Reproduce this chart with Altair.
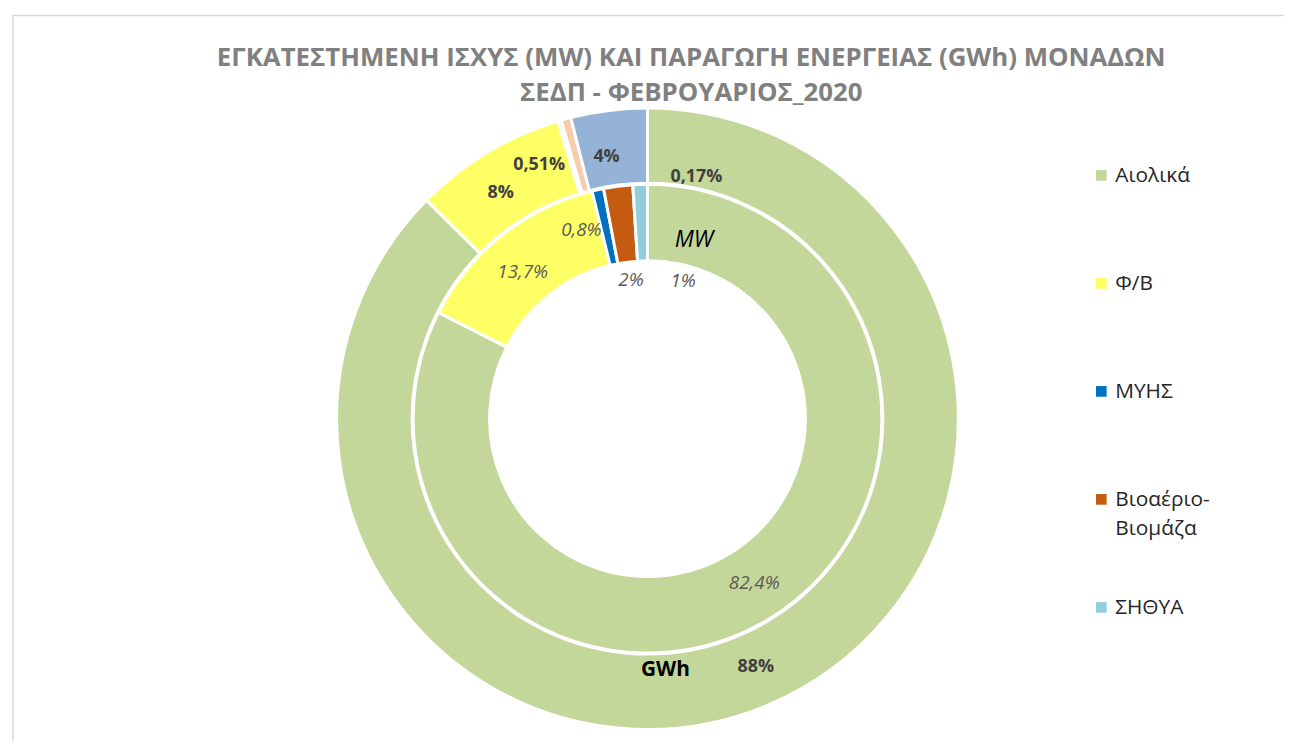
import altair as alt
import pandas as pd

# ---------------- data ----------------
categories = ["Αιολικά", "Φ/Β", "ΜΥΗΣ", "Βιοαέριο-Βιομάζα", "ΣΗΘΥΑ"]
legend_text = ["Αιολικά", "Φ/Β", "ΜΥΗΣ", "Βιοαέριο-\nΒιομάζα", "ΣΗΘΥΑ"]
mw_share = [82.4, 13.7, 0.8, 2.0, 1.0]          # inner ring (MW)
mw_labels = ["82,4%", "13,7%", "0,8%", "2%", "1%"]
gwh_share = [88.0, 8.0, 0.17, 0.51, 4.0]        # outer ring (GWh)
gwh_labels = ["88%", "8%", "0,17%", "0,51%", "4%"]
title_lines = ["ΕΓΚΑΤΕΣΤΗΜΕΝΗ ΙΣΧΥΣ (MW) ΚΑΙ ΠΑΡΑΓΩΓΗ ΕΝΕΡΓΕΙΑΣ (GWh) ΜΟΝΑΔΩΝ",
               "ΣΕΔΠ - ΦΕΒΡΟΥΑΡΙΟΣ_2020"]

# ---------------- styles ----------------
inner_colors = ["#C4D79B", "#FFFF66", "#0070C0", "#C55A11", "#92CDDC"]
outer_colors = ["#C4D79B", "#FFFF66", "#9DC3E6", "#F8CBAD", "#95B3D7"]
FONT = "Open Sans"
CX, CY = 639, 406
W, H = 1280, 730

inner_df = pd.DataFrame({"cat": categories, "order": list(range(5)),
                         "v": mw_share, "label": mw_labels})
outer_df = pd.DataFrame({"cat": categories, "order": list(range(5)),
                         "v": gwh_share, "label": gwh_labels})
legend_df = pd.DataFrame({"cat": categories, "text": legend_text})
title_df = pd.DataFrame({"t": ["\n".join(title_lines)]})


def ring(df, colors, r_out, r_in):
    return alt.Chart(df).mark_arc(radius=r_out, radius2=r_in, stroke="white",
                                  strokeWidth=3).encode(
        theta=alt.Theta("v:Q", stack=True),
        order=alt.Order("order:Q"),
        color=alt.Color("cat:N", scale=alt.Scale(domain=categories, range=colors),
                        legend=None),
        x=alt.value(CX), y=alt.value(CY),
    )


def label(df, cat, radius, dx, dy, text=None, **style):
    txt = alt.value(text) if text is not None else alt.Text("label:N")
    return alt.Chart(df).mark_text(radius=radius, dx=dx, dy=dy, align="center",
                                   baseline="middle", font=FONT, **style).encode(
        theta=alt.Theta("v:Q", stack=True),
        order=alt.Order("order:Q"),
        text=alt.condition(alt.datum.cat == cat, txt, alt.value("")),
        x=alt.value(CX), y=alt.value(CY),
    )


outer_nudge = {"Αιολικά": (3, -4), "Φ/Β": (-6, 8), "ΜΥΗΣ": (127, 20),
               "Βιοαέριο-Βιομάζα": (-37, 10), "ΣΗΘΥΑ": (-7, 9)}
inner_nudge = {"Αιολικά": (5, -2), "Φ/Β": (-4, 6), "ΜΥΗΣ": (-25, 2),
               "Βιοαέριο-Βιομάζα": (8, 55), "ΣΗΘΥΑ": (42, 57)}

# frame (left and top edges only are visible in the reference crop)
frame_left = alt.Chart(title_df).mark_rule(color="#D9D9D9", strokeWidth=1.5).encode(
    x=alt.value(0), y=alt.value(0), y2=alt.value(H))
frame_top = alt.Chart(title_df).mark_rule(color="#D9D9D9", strokeWidth=1.5).encode(
    x=alt.value(0), x2=alt.value(W), y=alt.value(0))

layers = [frame_left, frame_top,
          ring(outer_df, outer_colors, 313, 237), ring(inner_df, inner_colors, 236, 159)]
for c in categories:
    dx, dy = outer_nudge[c]
    layers.append(label(outer_df, c, 275, dx, dy, fontSize=18, fontWeight="bold",
                        color="#404040"))
    dx, dy = inner_nudge[c]
    layers.append(label(inner_df, c, 196, dx, dy, fontSize=19, fontStyle="italic",
                        color="#595959"))
# series-name labels
layers.append(label(inner_df, "ΣΗΘΥΑ", 196, 53, 16, text="MW", fontSize=23,
                    fontStyle="italic", color="#000000"))
layers.append(label(outer_df, "Αιολικά", 275, -88, -1, text="GWh", fontSize=21,
                    fontWeight="bold", color="#000000"))

# legend
ypos = alt.Y("cat:N", scale=alt.Scale(type="point", domain=categories,
                                      range=[161, 596], padding=0), axis=None)
leg_sq = alt.Chart(legend_df).mark_square(size=115, opacity=1).encode(
    x=alt.value(1096), y=ypos,
    color=alt.Color("cat:N", scale=alt.Scale(domain=categories, range=inner_colors),
                    legend=None),
)
leg_tx = alt.Chart(legend_df).mark_text(align="left", baseline="alphabetic", dy=7,
                                        lineBreak="\n", lineHeight=29, fontSize=21,
                                        font=FONT, color="#262626").encode(
    x=alt.value(1110), y=ypos, text="text:N",
)
layers += [leg_sq, leg_tx]

title = alt.Chart(title_df).mark_text(align="center", baseline="alphabetic",
                                      lineBreak="\n", lineHeight=35, fontSize=26,
                                      fontWeight="bold", font=FONT,
                                      color="#808080").encode(
    x=alt.value(683), y=alt.value(51), text="t:N",
)
layers.append(title)

chart = alt.layer(*layers).resolve_scale(
    theta="independent", color="independent"
).properties(
    width=W, height=H,
    padding={"left": 4, "top": 4, "right": 0, "bottom": 0},
).configure_view(strokeWidth=0)

chart.save("out.html", embed_options={"renderer": "svg", "actions": False})
